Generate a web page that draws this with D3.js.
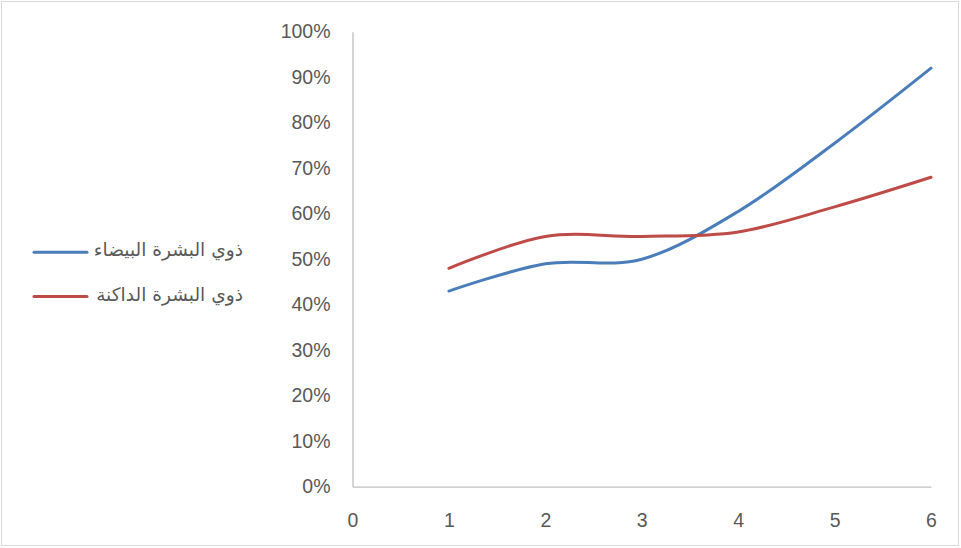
<!DOCTYPE html>
<html><head><meta charset="utf-8">
<script src="https://cdn.jsdelivr.net/npm/d3@7"></script>
<style>body{margin:0;background:#fff}svg{display:block}</style>
</head><body>
<svg id="c" width="961" height="548"></svg>
<script>
const xValues = [1, 2, 3, 4, 5, 6];
const whiteSkin = [0.43, 0.49, 0.50, 0.605, 0.755, 0.92];
const darkSkin = [0.48, 0.55, 0.55, 0.56, 0.615, 0.68];
const seriesNames = ["ذوي البشرة البيضاء", "ذوي البشرة الداكنة"];
const seriesColors = ["#4a7ebb", "#be4b48"];
const xTicks = [0, 1, 2, 3, 4, 5, 6];
const yTicks = [0, 0.1, 0.2, 0.3, 0.4, 0.5, 0.6, 0.7, 0.8, 0.9, 1.0];

const svg = d3.select("#c");
svg.append("rect").attr("x", 1.5).attr("y", 1.5).attr("width", 957).attr("height", 544)
  .attr("fill", "#fff").attr("stroke", "#d9d9d9").attr("stroke-width", 1);

const x = d3.scaleLinear().domain([0, 6]).range([352.5, 931]);
const y = d3.scaleLinear().domain([0, 1]).range([486.7, 31.7]);

const font = "'Liberation Sans', Arial, sans-serif";
const yAxis = svg.append("g").attr("transform", "translate(352.5,0)")
  .call(d3.axisLeft(y).tickValues(yTicks).tickFormat(d3.format(".0%")).tickSize(0).tickPadding(22));
const xAxis = svg.append("g").attr("transform", "translate(0,486.7)")
  .call(d3.axisBottom(x).tickValues(xTicks).tickFormat(d3.format("d")).tickSize(0).tickPadding(26));
[xAxis, yAxis].forEach(a => {
  a.select(".domain").attr("stroke", "#bfbfbf").attr("stroke-width", 1.3);
  a.selectAll("text").attr("fill", "#595959").style("font-family", font).style("font-size", "19.5px");
});

const series = [whiteSkin, darkSkin];
const line = d3.line().x((d, i) => x(xValues[i])).y(d => y(d)).curve(d3.curveCardinal.tension(0));
series.forEach((s, k) => {
  svg.append("path").datum(s).attr("d", line).attr("fill", "none")
    .attr("stroke", seriesColors[k]).attr("stroke-width", 3).attr("stroke-linecap", "round");
});

const legY = [252.3, 296.5];
const legTextY = [256, 301];
seriesNames.forEach((n, k) => {
  svg.append("line").attr("x1", 34).attr("x2", 87).attr("y1", legY[k]).attr("y2", legY[k])
    .attr("stroke", seriesColors[k]).attr("stroke-width", 3).attr("stroke-linecap", "round");
  svg.append("text").attr("x", 243).attr("y", legTextY[k])
    .attr("direction", "rtl").attr("text-anchor", "start").attr("fill", "#595959")
    .style("font-family", "'DejaVu Sans', sans-serif").style("font-size", "18.6px").text(n);
});
</script>
</body></html>
